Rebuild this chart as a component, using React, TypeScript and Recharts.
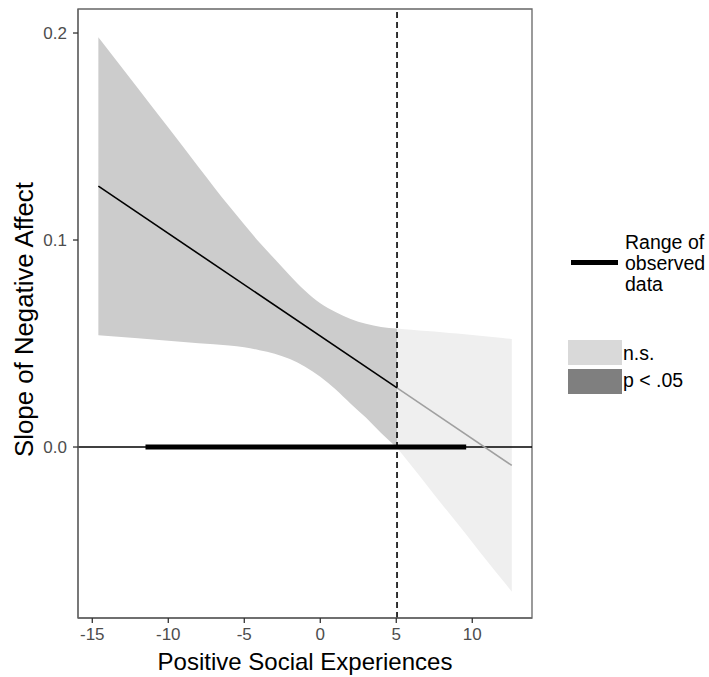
import React from 'react';
import { ComposedChart, Area, Line, XAxis, YAxis, ReferenceLine, ReferenceArea } from 'recharts';

// Johnson-Neyman style plot: slope of negative affect across positive social experiences
const sigX = [-14.6, -12, -10, -8, -6, -5, -4, -3, -2, -1, 0, 1, 2, 3, 4, 5.05];
const sigUpper = [0.198, 0.1733, 0.1543, 0.1352, 0.1164, 0.1075, 0.0988, 0.0908, 0.0829, 0.0755, 0.0694, 0.0652, 0.0618, 0.0595, 0.058, 0.0573];
const sigLower = [0.054, 0.0525, 0.0513, 0.0501, 0.049, 0.0482, 0.0468, 0.0451, 0.0425, 0.0388, 0.034, 0.0279, 0.0209, 0.0142, 0.0068, -0.0003];

const nsX = [5.05, 6, 7, 8, 9, 10, 11, 12, 12.6];
const nsUpper = [0.0573, 0.0567, 0.0561, 0.0555, 0.0548, 0.0541, 0.0534, 0.0527, 0.0522];
const nsLower = [-0.0003, -0.0091, -0.0183, -0.0276, -0.0367, -0.046, -0.0553, -0.0644, -0.0699];

const sigLineX = [-14.6, 5.05];
const sigLineY = [0.126, 0.0286];
const nsLineX = [5.05, 12.6];
const nsLineY = [0.0286, -0.0089];

const observedRange = [-11.5, 9.6];
const jnPoint = 5.05;

const xTicks = [-15, -10, -5, 0, 5, 10];
const yTicks = [0, 0.1, 0.2];
const xDomain = [-15.94, 13.93];
const yDomain = [-0.0826, 0.2116];

const sigBand = sigX.map((x, i) => ({ x, band: [sigLower[i], sigUpper[i]] }));
const nsBand = nsX.map((x, i) => ({ x, band: [nsLower[i], nsUpper[i]] }));
const sigLine = sigLineX.map((x, i) => ({ x, y: sigLineY[i] }));
const nsLine = nsLineX.map((x, i) => ({ x, y: nsLineY[i] }));
const observed = observedRange.map((x) => ({ x, y: 0 }));

const FONT = '"Liberation Sans", Arial, Helvetica, sans-serif';
const tickStyle = { fill: '#4d4d4d', fontSize: 17, fontFamily: FONT };

const Legend = () => (
  <div style={{ position: 'absolute', left: 0, top: 0, fontFamily: FONT, fontSize: 19.5, color: '#000' }}>
    <div style={{ position: 'absolute', left: 571, top: 260, width: 47, height: 5, background: '#000' }} />
    <div style={{ position: 'absolute', left: 625, top: 232, lineHeight: '21px', whiteSpace: 'nowrap' }}>
      Range of<br />observed<br />data
    </div>
    <div style={{ position: 'absolute', left: 568, top: 340, width: 54, height: 25, background: '#d9d9d9' }} />
    <div style={{ position: 'absolute', left: 568, top: 369, width: 54, height: 25, background: '#7f7f7f' }} />
    <div style={{ position: 'absolute', left: 623, top: 341, lineHeight: '25px', whiteSpace: 'nowrap' }}>n.s.</div>
    <div style={{ position: 'absolute', left: 623, top: 368, lineHeight: '25px', whiteSpace: 'nowrap' }}>p &lt; .05</div>
  </div>
);

export default function App() {
  return (
    <div style={{ position: 'absolute', left: 0, top: 0, width: 709, height: 677, background: '#fff' }}>
      <ComposedChart width={709} height={677} margin={{ top: 9, right: 177, left: 0, bottom: 0 }}>
        <XAxis
          dataKey="x"
          type="number"
          domain={xDomain}
          ticks={xTicks}
          allowDataOverflow
          height={59}
          tick={tickStyle}
          tickSize={5}
          tickMargin={5}
          axisLine={{ stroke: '#666', strokeWidth: 1.3 }}
          tickLine={{ stroke: '#333', strokeWidth: 1.3 }}
          label={({ viewBox }: any) => (
            <text
              x={viewBox.x + viewBox.width / 2}
              y={viewBox.y + 52}
              textAnchor="middle"
              fontSize={24}
              fontFamily={FONT}
              fill="#000"
            >
              Positive Social Experiences
            </text>
          )}
        />
        <YAxis
          type="number"
          domain={yDomain}
          ticks={yTicks}
          allowDataOverflow
          width={78}
          tick={tickStyle}
          tickFormatter={(v: number) => v.toFixed(1)}
          tickSize={5}
          tickMargin={6}
          axisLine={{ stroke: '#666', strokeWidth: 1.3 }}
          tickLine={{ stroke: '#333', strokeWidth: 1.3 }}
          label={({ viewBox }: any) => {
            const x = viewBox.x + 33;
            const y = viewBox.y + viewBox.height / 2 + 6;
            return (
              <text x={x} y={y} transform={`rotate(-90, ${x}, ${y})`} textAnchor="middle" fontSize={25.8} fontFamily={FONT} fill="#000">
                Slope of Negative Affect
              </text>
            );
          }}
        />

        <Area data={sigBand} dataKey="band" type="monotone" stroke="none" fill="#cccccc" fillOpacity={1} isAnimationActive={false} />
        <Area data={nsBand} dataKey="band" type="monotone" stroke="none" fill="#efefef" fillOpacity={1} isAnimationActive={false} />

        <ReferenceLine y={0} stroke="#000" strokeWidth={1.5} />
        <Line data={observed} dataKey="y" type="linear" stroke="#000" strokeWidth={5} dot={false} activeDot={false} strokeLinecap="butt" isAnimationActive={false} />
        <ReferenceLine x={jnPoint} stroke="#000" strokeWidth={1.6} strokeDasharray="6 4" />
        <Line data={sigLine} dataKey="y" type="linear" stroke="#000" strokeWidth={1.6} dot={false} activeDot={false} isAnimationActive={false} />
        <Line data={nsLine} dataKey="y" type="linear" stroke="#a0a0a0" strokeWidth={1.6} dot={false} activeDot={false} isAnimationActive={false} />

        <ReferenceArea x1={xDomain[0]} x2={xDomain[1]} y1={yDomain[0]} y2={yDomain[1]} fill="none" fillOpacity={0} stroke="#666" strokeWidth={1.3} />
      </ComposedChart>
      <Legend />
    </div>
  );
}
